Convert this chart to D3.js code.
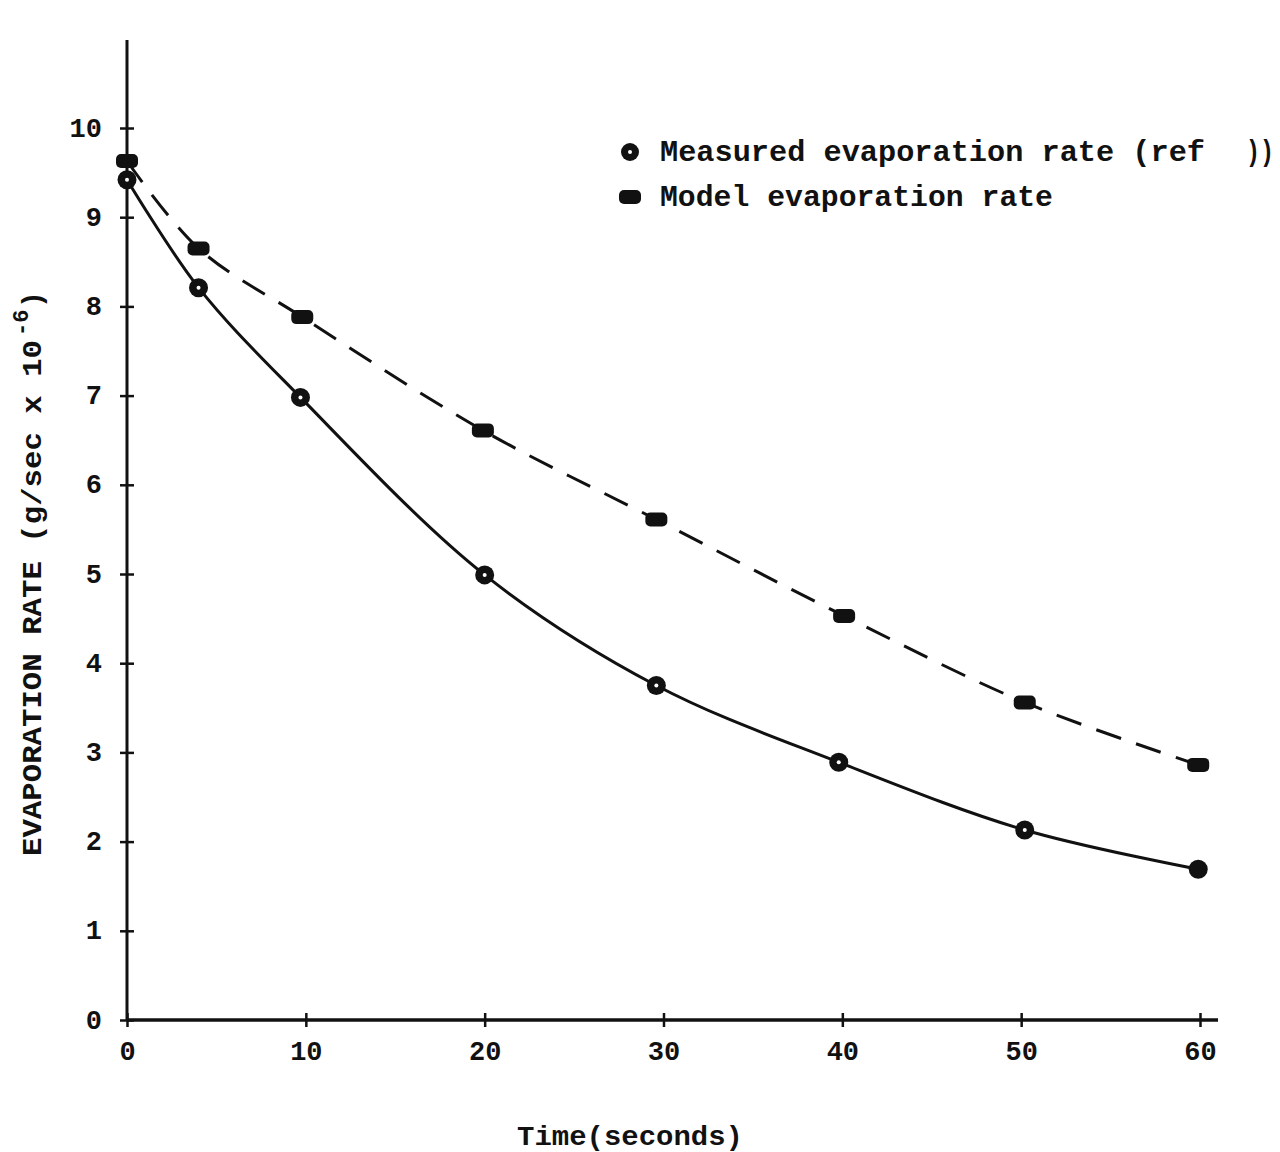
<!DOCTYPE html>
<html>
<head>
<meta charset="utf-8">
<script src="https://cdn.jsdelivr.net/npm/d3@7"></script>
<style>
  body { margin: 0; background: #fff; }
  text { font-family: "Liberation Mono", "Courier New", monospace; fill: #111; }
</style>
</head>
<body>
<div id="chart"></div>
<script>
// values
var timeMeasured = [0, 4, 9.7, 20, 29.6, 39.8, 50.2, 59.9]
var rateMeasured = [9.42, 8.21, 6.98, 4.99, 3.75, 2.89, 2.13, 1.69]
var timeModel = [0, 4, 9.8, 19.9, 29.6, 40.1, 50.2, 59.9]
var rateModel = [9.63, 8.65, 7.88, 6.61, 5.61, 4.53, 3.56, 2.86]
var xTicks = [0, 10, 20, 30, 40, 50, 60]
var yTicks = [0, 1, 2, 3, 4, 5, 6, 7, 8, 9, 10]

var width = 1280, height = 1152

var svg = d3.select('#chart')
  .append('svg')
  .attr('width', width)
  .attr('height', height)

var x = d3.scaleLinear().domain([0, 60]).range([127, 1200])
var y = d3.scaleLinear().domain([0, 10]).range([1020, 128])

var ink = '#111'

// y axis: ticks cross the line
var gy = svg.append('g')
  .attr('transform', 'translate(' + x(0) + ',0)')
  .call(d3.axisLeft(y).tickValues(yTicks).tickSize(7).tickPadding(18))
gy.select('.domain').remove()
gy.selectAll('.tick line').attr('x1', -7).attr('x2', 7)
  .attr('stroke', ink).attr('stroke-width', 2.5)
gy.selectAll('.tick text')
  .attr('font-size', 27).attr('font-weight', 'bold')
  .attr('font-family', '"Liberation Mono", monospace')
  .attr('fill', ink)
  .attr('dy', '0.3em')

var gx = svg.append('g')
  .attr('transform', 'translate(0,' + y(0) + ')')
  .call(d3.axisBottom(x).tickValues(xTicks).tickSize(7).tickPadding(14))
gx.select('.domain').remove()
gx.selectAll('.tick line').attr('y1', -7).attr('y2', 7)
  .attr('stroke', ink).attr('stroke-width', 2.5)
gx.selectAll('.tick text')
  .attr('font-size', 27).attr('font-weight', 'bold')
  .attr('font-family', '"Liberation Mono", monospace')
  .attr('fill', ink)

// axis lines (the y line runs above the last tick)
svg.append('line')
  .attr('x1', x(0)).attr('x2', x(0))
  .attr('y1', 40).attr('y2', y(0))
  .attr('stroke', ink).attr('stroke-width', 3)
svg.append('line')
  .attr('x1', x(0)).attr('x2', 1218)
  .attr('y1', y(0)).attr('y2', y(0))
  .attr('stroke', ink).attr('stroke-width', 3.5)

// curves
var line = d3.line()
  .x(function(d) { return x(d[0]) })
  .y(function(d) { return y(d[1]) })
  .curve(d3.curveCatmullRom.alpha(0.5))

var measured = d3.zip(timeMeasured, rateMeasured)
var model = d3.zip(timeModel, rateModel)

svg.append('path')
  .datum(measured)
  .attr('d', line)
  .attr('fill', 'none')
  .attr('stroke', ink)
  .attr('stroke-width', 3)

svg.append('path')
  .datum(model)
  .attr('d', line)
  .attr('fill', 'none')
  .attr('stroke', ink)
  .attr('stroke-width', 3)
  .attr('stroke-dasharray', '26,16')

// markers
svg.selectAll('.mod')
  .data(model)
  .enter().append('rect')
  .attr('class', 'mod')
  .attr('x', function(d) { return x(d[0]) - 11 })
  .attr('y', function(d) { return y(d[1]) - 7 })
  .attr('width', 22)
  .attr('height', 14)
  .attr('rx', 5).attr('ry', 5)
  .attr('fill', ink)

svg.selectAll('.meas')
  .data(measured)
  .enter().append('circle')
  .attr('class', 'meas')
  .attr('cx', function(d) { return x(d[0]) })
  .attr('cy', function(d) { return y(d[1]) })
  .attr('r', 9.5)
  .attr('fill', ink)
svg.selectAll('.measdot')
  .data(measured.slice(0, measured.length - 1))
  .enter().append('circle')
  .attr('class', 'measdot')
  .attr('cx', function(d) { return x(d[0]) })
  .attr('cy', function(d) { return y(d[1]) })
  .attr('r', 2)
  .attr('fill', '#fff')

// legend
var lg = svg.append('g')
lg.append('circle').attr('cx', 630).attr('cy', 152).attr('r', 9).attr('fill', ink)
lg.append('circle').attr('cx', 630).attr('cy', 152).attr('r', 2).attr('fill', '#fff')
lg.append('text').attr('x', 660).attr('y', 161)
  .attr('font-size', 29).attr('font-weight', 'bold')
  .attr('textLength', 545).attr('lengthAdjust', 'spacingAndGlyphs')
  .text('Measured evaporation rate (ref')
lg.append('text').attr('x', 1246).attr('y', 161)
  .attr('font-size', 29).attr('font-weight', 'bold')
  .attr('textLength', 28).attr('lengthAdjust', 'spacingAndGlyphs')
  .text('))')
lg.append('rect').attr('x', 619).attr('y', 190).attr('width', 22).attr('height', 14)
  .attr('rx', 5).attr('fill', ink)
lg.append('text').attr('x', 660).attr('y', 206)
  .attr('font-size', 29).attr('font-weight', 'bold')
  .attr('textLength', 393).attr('lengthAdjust', 'spacingAndGlyphs')
  .text('Model evaporation rate')

// axis titles
svg.append('text')
  .attr('x', 517).attr('y', 1145)
  .attr('font-size', 28).attr('font-weight', 'bold')
  .attr('textLength', 226).attr('lengthAdjust', 'spacingAndGlyphs')
  .text('Time(seconds)')

var yt = svg.append('g')
  .attr('transform', 'translate(41,856) rotate(-90)')
yt.append('text').attr('x', 0).attr('y', 0)
  .attr('font-size', 28).attr('font-weight', 'bold')
  .attr('textLength', 516).attr('lengthAdjust', 'spacingAndGlyphs')
  .text('EVAPORATION RATE (g/sec x 10')
yt.append('text').attr('x', 520).attr('y', -13)
  .attr('font-size', 22).attr('font-weight', 'bold')
  .text('-6')
yt.append('text').attr('x', 548).attr('y', 0)
  .attr('font-size', 28).attr('font-weight', 'bold')
  .text(')')
</script>
</body>
</html>
